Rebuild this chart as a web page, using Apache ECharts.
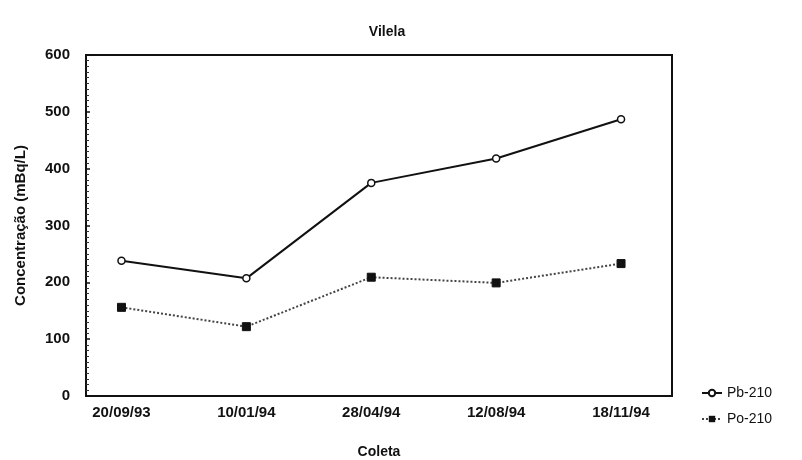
<!DOCTYPE html>
<html>
<head>
<meta charset="utf-8">
<script src="https://cdn.jsdelivr.net/npm/echarts@6/dist/echarts.min.js"></script>
<style>html,body{margin:0;padding:0;background:#fff}#c{width:802px;height:460px}</style>
</head>
<body>
<div id="c"></div>
<script>
const categories = ['20/09/93', '10/01/94', '28/04/94', '12/08/94', '18/11/94'];
const pb210 = [238, 207, 375, 418, 487];
const po210 = [156, 122, 209, 199, 233];
const yTicks = [0, 100, 200, 300, 400, 500, 600];

const font = '"Liberation Sans", Arial, sans-serif';
const chart = echarts.init(document.getElementById('c'), null, {renderer: 'canvas'});
const toPts = arr => arr.map((v, i) => [i, v]);

chart.setOption({
  animation: false,
  backgroundColor: '#fff',
  title: {
    text: 'Vilela', left: 382, top: 20, textAlign: 'center',
    textStyle: {fontFamily: font, fontSize: 14, fontWeight: 'bold', color: '#111'}
  },
  legend: {
    orient: 'vertical', left: 696, top: 381, itemGap: 12,
    itemWidth: 20, itemHeight: 8,
    textStyle: {fontFamily: font, fontSize: 14, color: '#111'},
    data: ['Pb-210', 'Po-210']
  },
  grid: {
    left: 86, right: 130, top: 55, bottom: 64,
    outerBoundsMode: 'none', containLabel: false,
    show: true, borderColor: '#111', borderWidth: 2, backgroundColor: 'transparent'
  },
  xAxis: {
    type: 'value', min: -0.284, max: 4.408,
    name: 'Coleta', nameLocation: 'middle', nameGap: 49,
    nameTextStyle: {fontFamily: font, fontSize: 14, fontWeight: 'bold', color: '#111'},
    axisLine: {show: true, onZero: false, lineStyle: {color: '#111', width: 2}},
    axisTick: {show: false},
    splitLine: {show: false},
    axisLabel: {
      customValues: [0, 1, 2, 3, 4],
      formatter: v => categories[Math.round(v)] || '',
      fontFamily: font, fontSize: 15, fontWeight: 'bold', color: '#111', margin: 9
    }
  },
  yAxis: {
    type: 'value', min: 0, max: 600, interval: 100,
    name: 'Concentração (mBq/L)', nameLocation: 'middle', nameGap: 58,
    nameTextStyle: {fontFamily: font, fontSize: 15, fontWeight: 'bold', color: '#111'},
    axisLine: {show: true, onZero: false, lineStyle: {color: '#111', width: 2}},
    axisTick: {show: true, inside: true, length: 4, lineStyle: {color: '#111', width: 1.5}},
    minorTick: {show: true, splitNumber: 10, length: 3, lineStyle: {color: '#333', width: 1}},
    splitLine: {show: false},
    axisLabel: {
      formatter: v => yTicks.includes(v) ? String(v) : '',
      fontFamily: font, fontSize: 15, fontWeight: 'bold', color: '#111', margin: 16
    }
  },
  series: [
    {
      name: 'Pb-210', type: 'line', data: toPts(pb210),
      symbol: 'circle', symbolSize: 7,
      lineStyle: {color: '#111', width: 2},
      itemStyle: {color: '#fff', borderColor: '#111', borderWidth: 1.5},
      z: 3
    },
    {
      name: 'Po-210', type: 'line', data: toPts(po210),
      symbol: 'rect', symbolSize: 8,
      lineStyle: {color: '#444', width: 2, type: [2, 2]},
      itemStyle: {color: '#111', borderColor: '#111'},
      z: 2
    }
  ]
});
</script>
</body>
</html>
